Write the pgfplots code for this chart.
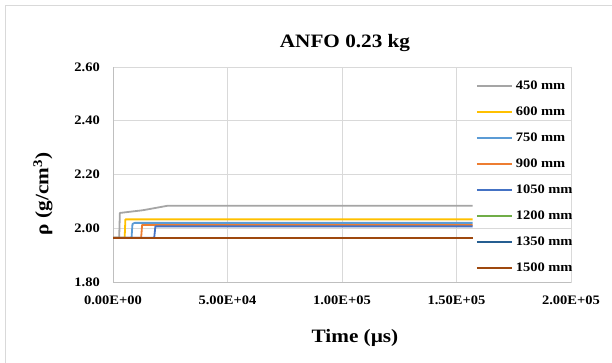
\documentclass[border=0pt]{standalone}
\usepackage{fontspec}
\setmainfont[FakeStretch=1.12]{Liberation Serif}
\usepackage{pgfplots}
\pgfplotsset{compat=1.18}
\definecolor{c450}{HTML}{A5A5A5}
\definecolor{c600}{HTML}{FFC000}
\definecolor{c750}{HTML}{5B9BD5}
\definecolor{c900}{HTML}{ED7D31}
\definecolor{c1050}{HTML}{4472C4}
\definecolor{c1200}{HTML}{70AD47}
\definecolor{c1350}{HTML}{255E91}
\definecolor{c1500}{HTML}{9E480E}
\definecolor{gridc}{HTML}{D9D9D9}
\definecolor{axc}{HTML}{BFBFBF}
\begin{document}
\begin{tikzpicture}[x=1bp,y=1bp]
\useasboundingbox (0,0) rectangle (612,362);
\draw[gridc, line width=1bp] (5,-20) rectangle (640,356);
\begin{axis}[
  at={(113bp,80bp)}, anchor=south west,
  scale only axis, width=458bp, height=215bp,
  xmin=0, xmax=200000, ymin=1.8, ymax=2.6,
  xtick={0,50000,100000,150000,200000},
  xticklabels={0.00E+00,5.00E+04,1.00E+05,1.50E+05,2.00E+05},
  ytick={1.8,2.0,2.2,2.4,2.6},
  yticklabels={1.80,2.00,2.20,2.40,2.60},
  scaled x ticks=false,
  grid=major, major grid style={draw=gridc, line width=1bp},
  axis line style={draw=gridc, line width=1bp},
  tick style={draw=none},
  ticklabel style={font=\fontsize{13}{13}\selectfont\bfseries, inner sep=0pt},
  xticklabel style={anchor=base, yshift=-22bp},
  yticklabel style={anchor=east, xshift=-13bp},
  legend style={draw=none, fill=none, at={(0.792,0.944)}, anchor=north west,
    inner sep=0pt, outer sep=0pt, row sep=16.0bp, column sep=3bp,
    font=\fontsize{13}{13}\selectfont\bfseries,
    nodes={inner sep=0pt, text height=10bp, text depth=0pt}},
  legend cell align=left,
  legend image code/.code={\draw[#1, line width=2bp] (0bp,-1.5bp) -- (35bp,-1.5bp);},
  every axis plot/.append style={line width=1.8bp, line join=round},
  clip=false,
]
\draw[axc, line width=1bp] (rel axis cs:0,0) -- (rel axis cs:0,1);
\draw[axc, line width=1bp] (rel axis cs:0,0) -- (rel axis cs:1,0);
\addplot[c450] coordinates {(0,1.965) (2700,1.965) (3000,2.057) (13000,2.067) (24000,2.084) (157000,2.084)};
\addlegendentry{450 mm}
\addplot[c600] coordinates {(0,1.965) (5100,1.965) (5400,2.033) (157000,2.033)};
\addlegendentry{600 mm}
\addplot[c750] coordinates {(0,1.965) (8100,1.965) (8500,2.016) (9500,2.020) (157000,2.020)};
\addlegendentry{750 mm}
\addplot[c900] coordinates {(0,1.965) (12300,1.965) (12700,2.012) (157000,2.012)};
\addlegendentry{900 mm}
\addplot[c1050] coordinates {(0,1.965) (18000,1.965) (18500,2.007) (157000,2.007)};
\addlegendentry{1050 mm}
\addplot[c1200] coordinates {(0,1.965) (157000,1.965)};
\addlegendentry{1200 mm}
\addplot[c1350] coordinates {(0,1.965) (157000,1.965)};
\addlegendentry{1350 mm}
\addplot[c1500] coordinates {(0,1.965) (157000,1.965)};
\addlegendentry{1500 mm}
\end{axis}
\node[font=\fontsize{19}{19}\selectfont\bfseries] at (345,319) {ANFO 0.23 kg};
\node[font=\fontsize{19}{19}\selectfont\bfseries] at (355,24) {Time (µs)};
\node[font=\fontsize{19}{19}\selectfont\bfseries, rotate=90] at (43,168) {ρ (g/cm\textsuperscript{3})};
\end{tikzpicture}
\end{document}
